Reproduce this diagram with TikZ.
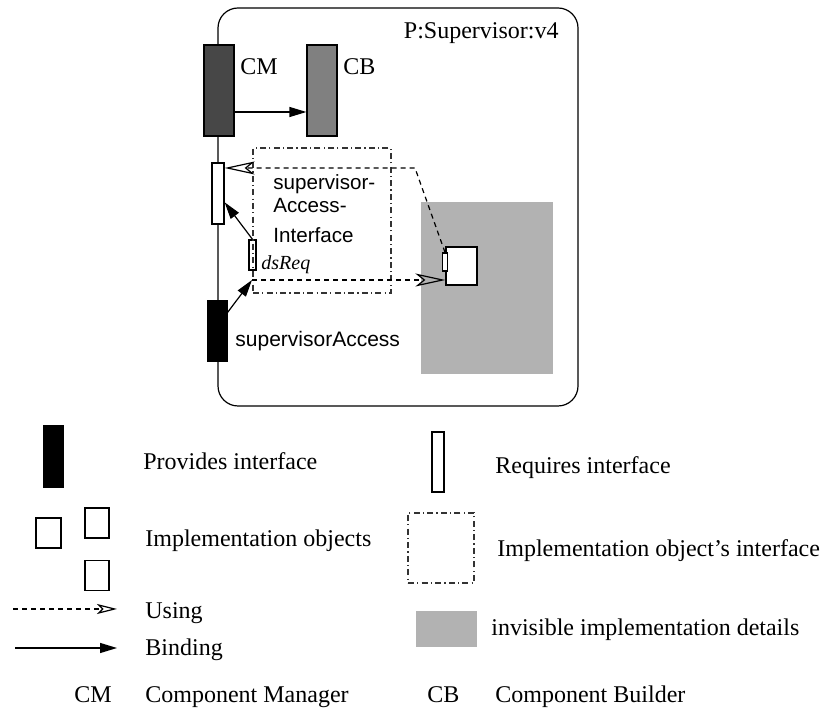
\documentclass[tikz,border=0pt]{standalone}
\usepackage{fontspec}
\setmainfont{Liberation Serif}
\setsansfont{Liberation Sans}
\usetikzlibrary{arrows.meta, calc}

\begin{document}
\begin{tikzpicture}[x=0.5pt, y=-0.5pt,
    every node/.style={font=\fontsize{12}{14}\selectfont, inner sep=0pt},
    part/.style={rectangle, draw=black, line width=0.6pt, fill=white},
    txt/.style={anchor=base west},
    sans/.style={font=\fontsize{10.5}{12}\selectfont\sffamily},
    ifbox/.style={rectangle, draw=black!80, line width=0.6pt, dash pattern=on 3pt off 1.6pt on 0.6pt off 1.6pt},
    bind/.style={draw, line width=0.6pt, -{Triangle[length=8.5pt, width=5pt]}},
    use/.style={draw, line width=0.6pt, dash pattern=on 2.5pt off 2pt, -{Stealth[open, length=15pt, width=6.5pt, inset=4pt]}}]

\useasboundingbox (0,0) rectangle (825,710);

% Component
\node[draw, line width=0.6pt, rounded corners=10pt, minimum width=180pt, minimum height=199pt] (supervisor) at (398,207) {};
\node[anchor=base east] (supname) at (559,39) {P:Supervisor:v4};
\node[part, fill=black!72, minimum width=15pt, minimum height=45.5pt] (cm) at (219,90.5) {};
\node[part, fill=black!50, minimum width=15pt, minimum height=45.5pt] (cb) at (322,90.5) {};
\node[txt] (cmname) at (240,75) {CM};
\node[txt] (cbname) at (343,75) {CB};
\node[part, minimum width=6pt, minimum height=30.5pt] (reqIf) at (218,193.5) {};
\node[part, fill=black, minimum width=9.5pt, minimum height=30pt] (provAccess) at (217.5,331) {};
\node[sans, txt] (provname) at (235,347) {supervisorAccess};

% Implementation details
\node[rectangle, fill=black!30, minimum width=66pt, minimum height=86pt] (hidden) at (487,288) {};
\node[part, minimum width=15.5pt, minimum height=19pt] (implObj) at (461.5,266) {};
\node[part, minimum width=2.5pt, minimum height=9pt] (objReq) at (445,262) {};

% Implementation object's interface
\node[part, minimum width=3.5pt, minimum height=15pt] (dsReq) at (252.5,255) {};
\node[ifbox, minimum width=69pt, minimum height=72.5pt] (ifBox) at (322,220.5) {};
\node[sans, anchor=west, align=left, font=\fontsize{10.3}{11.5}\selectfont\sffamily] (ifname) at (273,209) {supervisor-\\Access-\\[3.5pt]Interface};
\node[txt, font=\fontsize{10}{12}\selectfont\itshape] (dsname) at (261,270) {dsReq};
\coordinate (useStart) at (252,280);
\coordinate (useBend) at (415,168);

% Paths
\draw[bind] ([yshift=-10.75pt]cm.east) -- ([yshift=-10.75pt]cb.west);
\draw[bind] (dsReq.north) -- (reqIf);
\draw[bind] ([yshift=-6pt]provAccess.north east) -- (useStart);
\draw[use] (useStart) -- (useStart -| implObj.west);
\draw[use] (objReq.north) -- (useBend) -- (useBend -| reqIf.east);

% Legend
\node[part, fill=black, minimum width=9.5pt, minimum height=30.5pt] (lgProv) at (53.5,456.5) {};
\node[txt] (lgProvText) at (143,470) {Provides interface};
\node[part, minimum width=6pt, minimum height=30pt] (lgReq) at (438,462) {};
\node[txt] (lgReqText) at (495,474) {Requires interface};
\node[part, minimum width=12.5pt, minimum height=15pt] (lgObjA) at (48.5,533) {};
\node[part, minimum width=12pt, minimum height=15pt] (lgObjB) at (97,523) {};
\node[part, minimum width=12pt, minimum height=15pt] (lgObjC) at (97,575.5) {};
\node[txt] (lgObjText) at (145,547) {Implementation objects};
\node[ifbox, minimum width=33pt, minimum height=35pt] (lgIf) at (441,548) {};
\node[txt] (lgIfText) at (497,557) {Implementation object's interface};
\node[rectangle, fill=black!30, minimum width=30.5pt, minimum height=18pt] (lgHidden) at (446.5,629) {};
\node[txt] (lgHiddenText) at (491,636) {invisible implementation details};
\coordinate (lgUseA) at (13,609);
\coordinate (lgUseB) at (117,609);
\draw[use, -{Stealth[open, length=10pt, width=5pt, inset=2.5pt]}] (lgUseA) -- (lgUseB);
\node[txt] (lgUseText) at (145,619) {Using};
\coordinate (lgBindA) at (15,648);
\coordinate (lgBindB) at (117,648);
\draw[bind] (lgBindA) -- (lgBindB);
\node[txt] (lgBindText) at (145,656) {Binding};
\node[txt] (lgCM) at (74,703) {CM};
\node[txt] (lgCMText) at (145,703) {Component Manager};
\node[txt] (lgCB) at (427,703) {CB};
\node[txt] (lgCBText) at (495,703) {Component Builder};

\end{tikzpicture}
\end{document}
